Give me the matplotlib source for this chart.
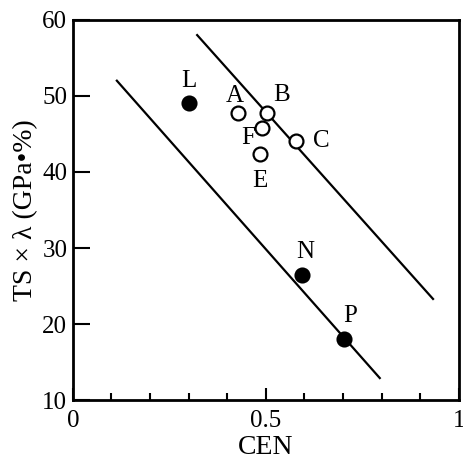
import matplotlib.pyplot as plt
import numpy as np

plt.rcParams['font.family'] = ['Liberation Serif', 'DejaVu Serif']

# open circles (A-F) and filled circles (L, N, P)
open_labels = ['A', 'B', 'F', 'E', 'C']
open_x = [0.427, 0.502, 0.490, 0.484, 0.578]
open_y = [47.8, 47.8, 45.8, 42.4, 44.1]

filled_labels = ['L', 'N', 'P']
filled_x = [0.300, 0.594, 0.703]
filled_y = [49.1, 26.4, 18.0]

# trend lines
upper_x = [0.322, 0.933]
upper_y = [58.0, 23.3]
lower_x = [0.114, 0.795]
lower_y = [52.0, 12.9]

# label offsets in points (dx, dy)
offsets = {'A': (-2, 12), 'B': (11, 13), 'F': (-10, -7), 'E': (0, -20),
           'C': (18, 0), 'L': (0, 16), 'N': (2, 17), 'P': (4, 17)}

fig = plt.figure(figsize=(4.64, 4.62), dpi=100)
ax = fig.add_axes([0.157, 0.134, 0.832, 0.823])

ax.plot(upper_x, upper_y, color='black', lw=1.6)
ax.plot(lower_x, lower_y, color='black', lw=1.6)

ax.plot(open_x, open_y, 'o', ms=10, mfc='white', mec='black', mew=1.6, zorder=3)
ax.plot(filled_x, filled_y, 'o', ms=10, mfc='black', mec='black', mew=1.6, zorder=3)

for lab, x, y in zip(open_labels + filled_labels, open_x + filled_x, open_y + filled_y):
    dx, dy = offsets[lab]
    ax.annotate(lab, (x, y), xytext=(dx, dy), textcoords='offset points',
                ha='center', va='center', fontsize=18)

ax.set_xlim(0, 1)
ax.set_ylim(10, 60)
ax.set_xticks([0, 0.5, 1])
ax.set_xticklabels(['0', '0.5', '1'])
ax.set_xticks(np.arange(0.1, 1.0, 0.1), minor=True)
ax.set_yticks([10, 20, 30, 40, 50, 60])
ax.tick_params(axis='x', which='major', direction='in', length=9, width=1.5,
               labelsize=18, pad=7)
ax.tick_params(axis='x', which='minor', direction='in', length=5, width=1.5)
ax.tick_params(axis='y', direction='in', length=12, width=1.5, labelsize=18, pad=4)
for s in ax.spines.values():
    s.set_linewidth(2)

ax.set_xlabel('CEN', fontsize=20, labelpad=2)
ax.set_ylabel('TS × λ (GPa•%)', fontsize=20, labelpad=3)

fig.savefig('out.png', dpi=100)
